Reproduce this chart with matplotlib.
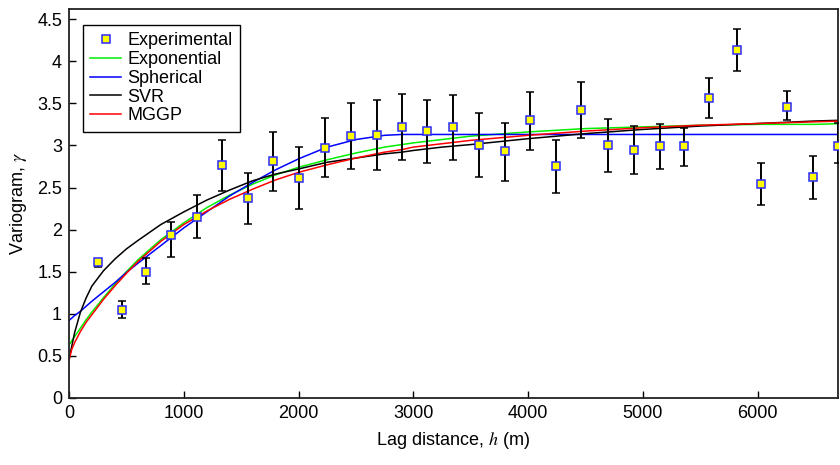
import numpy as np
import matplotlib
matplotlib.use("Agg")
import matplotlib.pyplot as plt
from matplotlib.lines import Line2D

# Experimental semivariogram: lag centres (m), estimates and error-bar bounds
lag = [250, 460, 675, 890, 1115, 1335, 1560, 1780, 2000, 2235,
       2460, 2685, 2905, 3120, 3350, 3575, 3800, 4020, 4245, 4465,
       4695, 4920, 5145, 5355, 5580, 5820, 6030, 6260, 6480, 6700]
gamma = [1.61, 1.05, 1.50, 1.94, 2.15, 2.77, 2.37, 2.81, 2.61, 2.97,
         3.11, 3.12, 3.22, 3.17, 3.22, 3.00, 2.93, 3.30, 2.75, 3.42,
         3.00, 2.95, 2.99, 2.99, 3.56, 4.13, 2.54, 3.46, 2.62, 2.99]
gamma_hi = [1.65, 1.15, 1.66, 2.09, 2.41, 3.06, 2.67, 3.16, 2.98, 3.32,
            3.50, 3.54, 3.61, 3.54, 3.60, 3.38, 3.27, 3.64, 3.07, 3.75,
            3.31, 3.23, 3.25, 3.21, 3.80, 4.38, 2.79, 3.65, 2.87, 3.27]
gamma_lo = [1.56, 0.95, 1.35, 1.68, 1.90, 2.46, 2.07, 2.46, 2.24, 2.62,
            2.72, 2.71, 2.83, 2.79, 2.83, 2.62, 2.58, 2.95, 2.43, 3.09,
            2.69, 2.66, 2.72, 2.75, 3.32, 3.88, 2.29, 3.30, 2.36, 2.79]

# Fitted variogram models, tabulated on a common lag grid (m)
h_model = [0, 25, 50, 100, 150, 200, 300, 400, 500, 600,
           800, 1000, 1200, 1400, 1600, 1800, 2000, 2250, 2500, 2750,
           2900, 3000, 3250, 3500, 4000, 4500, 5000, 5500, 6000, 6500, 6750]
exponential = [0.63, 0.68, 0.73, 0.83, 0.93, 1.02, 1.19, 1.35, 1.50, 1.64,
               1.88, 2.08, 2.26, 2.41, 2.54, 2.65, 2.74, 2.83, 2.91, 2.98,
               3.01, 3.03, 3.07, 3.11, 3.16, 3.20, 3.22, 3.24, 3.25, 3.25, 3.26]
spherical = [0.92, 0.95, 0.98, 1.03, 1.09, 1.15, 1.26, 1.37, 1.49, 1.60,
             1.81, 2.02, 2.21, 2.40, 2.56, 2.71, 2.84, 2.98, 3.07, 3.12,
             3.13, 3.13, 3.13, 3.13, 3.13, 3.13, 3.13, 3.13, 3.13, 3.13, 3.13]
svr = [0.45, 0.62, 0.78, 1.02, 1.19, 1.33, 1.51, 1.65, 1.77, 1.87,
       2.06, 2.21, 2.35, 2.47, 2.58, 2.66, 2.72, 2.80, 2.85, 2.90,
       2.92, 2.94, 2.98, 3.01, 3.08, 3.14, 3.19, 3.23, 3.26, 3.29, 3.30]
mggp = [0.45, 0.58, 0.66, 0.79, 0.90, 0.99, 1.17, 1.33, 1.48, 1.62,
        1.86, 2.06, 2.22, 2.36, 2.48, 2.59, 2.68, 2.77, 2.85, 2.92,
        2.95, 2.98, 3.02, 3.06, 3.12, 3.17, 3.21, 3.24, 3.26, 3.28, 3.29]

x_ticks = [0, 1000, 2000, 3000, 4000, 5000, 6000]
y_ticks = [0, 0.5, 1, 1.5, 2, 2.5, 3, 3.5, 4, 4.5]
y_tick_labels = ["0", "0.5", "1", "1.5", "2", "2.5", "3", "3.5", "4", "4.5"]

plt.rcParams["font.family"] = ["Liberation Sans", "DejaVu Sans"]
plt.rcParams["mathtext.fontset"] = "stix"
plt.rcParams["font.size"] = 13

fig = plt.figure(figsize=(8.4, 4.65), dpi=100)
ax = fig.add_axes([0.0821, 0.1441, 0.9155, 0.8365])

ax.plot(h_model, exponential, color="#00ee00", lw=1.1, zorder=2)
ax.plot(h_model, spherical, color="#0000ff", lw=1.1, zorder=2)
ax.plot(h_model, svr, color="black", lw=1.1, zorder=2)
ax.plot(h_model, mggp, color="#ff0000", lw=1.1, zorder=2)

g = np.asarray(gamma)
yerr = [g - np.asarray(gamma_lo), np.asarray(gamma_hi) - g]
ax.errorbar(lag, gamma, yerr=yerr, fmt="s", ms=5.2, mfc="#ffff00",
            mec="#2a2aff", mew=1.1, ecolor="black", elinewidth=1.4,
            capsize=3.2, capthick=1.4, zorder=3, clip_on=True)

ax.set_xlim(0, 6700)
ax.set_ylim(0, 4.62)
ax.set_xticks(x_ticks)
ax.set_yticks(y_ticks)
ax.set_yticklabels(y_tick_labels)
ax.tick_params(direction="in", length=5, width=1, top=False, right=False,
               labelsize=13, pad=5)
for s in ax.spines.values():
    s.set_linewidth(1.3)
    s.set_color("#222222")

ax.set_xlabel(r"Lag distance, $h$ (m)", fontsize=13, labelpad=6)
ax.set_ylabel(r"Variogram, $\gamma$", fontsize=13, labelpad=6)

handles = [
    Line2D([], [], ls="none", marker="s", ms=5.2, mfc="#ffff00",
           mec="#2a2aff", mew=1.1, label="Experimental"),
    Line2D([], [], color="#00ee00", lw=1.1, label="Exponential"),
    Line2D([], [], color="#0000ff", lw=1.1, label="Spherical"),
    Line2D([], [], color="black", lw=1.1, label="SVR"),
    Line2D([], [], color="#ff0000", lw=1.1, label="MGGP"),
]
leg = ax.legend(handles=handles, loc="upper left",
                bbox_to_anchor=(0.0182, 0.9589), borderaxespad=0,
                fancybox=False, framealpha=1, edgecolor="black",
                fontsize=13, labelspacing=0.1, handlelength=1.7,
                handletextpad=0.35, borderpad=0.4)
leg.get_frame().set_linewidth(1.0)

fig.savefig("out.png", dpi=100)
